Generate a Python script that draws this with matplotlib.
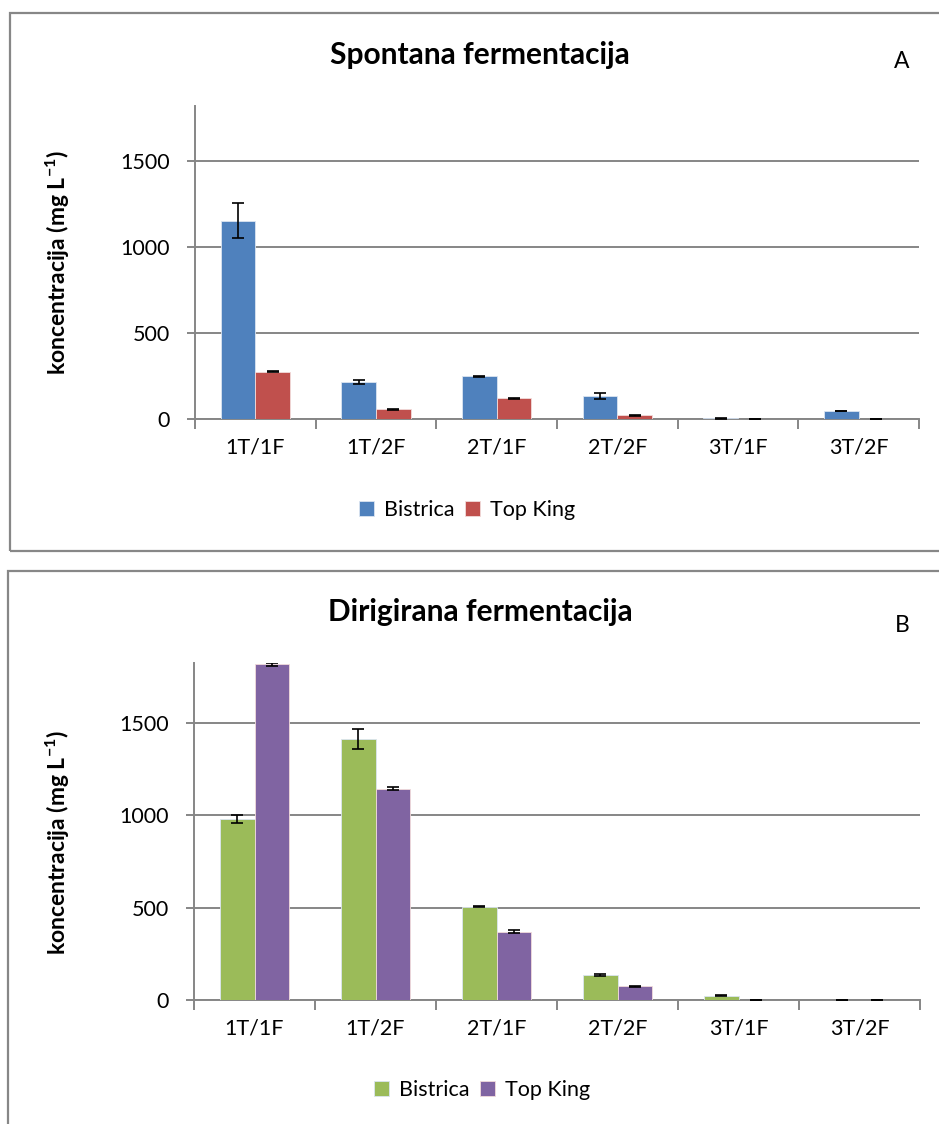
import matplotlib
matplotlib.use('Agg')
import matplotlib.pyplot as plt
from matplotlib.patches import Rectangle
import numpy as np

plt.rcParams['font.family'] = ['Lato', 'DejaVu Sans']
plt.rcParams['mathtext.default'] = 'regular'

categories = ['1T/1F', '1T/2F', '2T/1F', '2T/2F', '3T/1F', '3T/2F']

# A - spontana fermentacija
spont_bistrica = [1155, 217, 248, 134, 3, 47]
spont_bistrica_err = [100, 12, 3, 17, 1, 2]
spont_topking = [275, 58, 120, 22, 2, 2]
spont_topking_err = [3, 3, 3, 3, 0, 0]

# B - dirigirana fermentacija
dirig_bistrica = [977, 1412, 505, 135, 23, 1]
dirig_bistrica_err = [21, 54, 3, 7, 3, 0]
dirig_topking = [1816, 1143, 370, 74, 1, 1]
dirig_topking_err = [8, 10, 10, 4, 0, 0]

W, H = 939, 1124
fig = plt.figure(figsize=(W / 100, H / 100), dpi=100)

grey = '#868686'

# panel frames
fig.add_artist(Rectangle((10 / W, 1 - 551 / H), 940 / W, (551 - 13) / H,
                         transform=fig.transFigure, fill=False, ec='#878787', lw=1.6))
fig.add_artist(Rectangle((8 / W, 1 - 1130 / H), 940 / W, (1130 - 571) / H,
                         transform=fig.transFigure, fill=False, ec='#878787', lw=1.6))


def draw_panel(ax, b, be, t, te, c1, c2):
    x = np.arange(len(categories))
    w = 0.286
    ax.bar(x - w / 2, b, w, color=c1, edgecolor='#dbe5f1', linewidth=0.6, zorder=3)
    ax.bar(x + w / 2, t, w, color=c2, edgecolor='#f2dcdb', linewidth=0.6, zorder=3)
    ax.errorbar(x - w / 2, b, yerr=be, fmt='none', ecolor='black', elinewidth=1.2,
                capsize=4.5, capthick=1.2, zorder=4)
    ax.errorbar(x + w / 2, t, yerr=te, fmt='none', ecolor='black', elinewidth=1.2,
                capsize=4.5, capthick=1.2, zorder=4)
    ax.set_xlim(-0.5, len(categories) - 0.5)
    ax.set_ylim(0, 1822)
    ax.set_yticks([0, 500, 1000, 1500])
    ax.yaxis.grid(True, color=grey, lw=1.4, zorder=0)
    ax.set_axisbelow(True)
    ax.set_xticks(np.arange(len(categories) + 1) - 0.5)
    ax.set_xticklabels([])
    ax.set_xticks(x, minor=True)
    ax.set_xticklabels(categories, minor=True)
    ax.tick_params(axis='x', which='major', length=7, width=1.4, color=grey, direction='out')
    ax.tick_params(axis='x', which='minor', length=0, labelsize=15.5, pad=13)
    ax.tick_params(axis='y', length=6, width=1.4, color=grey, labelsize=15.5, pad=12)
    for s in ['top', 'right']:
        ax.spines[s].set_visible(False)
    for s in ['left', 'bottom']:
        ax.spines[s].set_color(grey)
        ax.spines[s].set_linewidth(1.4)
    ax.set_ylabel('koncentracija (mg L$^{-1}$)', fontsize=16.5, fontweight='bold')


ax1 = fig.add_axes([195 / W, 1 - 419 / H, (919 - 195) / W, (419 - 106) / H])
draw_panel(ax1, spont_bistrica, spont_bistrica_err, spont_topking, spont_topking_err,
           '#4f81bd', '#c0504d')
ax1.yaxis.set_label_coords((72 - 195) / 724, (419 - 263) / 313)
fig.text(480 / W, 1 - 55 / H, 'Spontana fermentacija', fontsize=21.5, fontweight='bold',
         ha='center', va='center')
fig.text(902 / W, 1 - 62 / H, 'A', fontsize=16.5, ha='center', va='center')
ax1.legend(['Bistrica', 'Top King'], loc='center', bbox_to_anchor=(467 / W, 1 - 510 / H),
           bbox_transform=fig.transFigure, ncol=2, frameon=False, fontsize=15.5,
           handlelength=0.7, handleheight=0.7, handletextpad=0.45, columnspacing=0.5)

ax2 = fig.add_axes([194 / W, 1 - 1000 / H, (920 - 194) / W, (1000 - 663) / H])
draw_panel(ax2, dirig_bistrica, dirig_bistrica_err, dirig_topking, dirig_topking_err,
           '#9bbb59', '#8064a2')
ax2.yaxis.set_label_coords((72 - 194) / 726, (1000 - 843) / 337)
fig.text(480 / W, 1 - 612 / H, 'Dirigirana fermentacija', fontsize=21.5, fontweight='bold',
         ha='center', va='center')
fig.text(902 / W, 1 - 625 / H, 'B', fontsize=16.5, ha='center', va='center')
ax2.legend(['Bistrica', 'Top King'], loc='center', bbox_to_anchor=(482 / W, 1 - 1090 / H),
           bbox_transform=fig.transFigure, ncol=2, frameon=False, fontsize=15.5,
           handlelength=0.7, handleheight=0.7, handletextpad=0.45, columnspacing=0.5)

fig.savefig('out.png', dpi=100)
